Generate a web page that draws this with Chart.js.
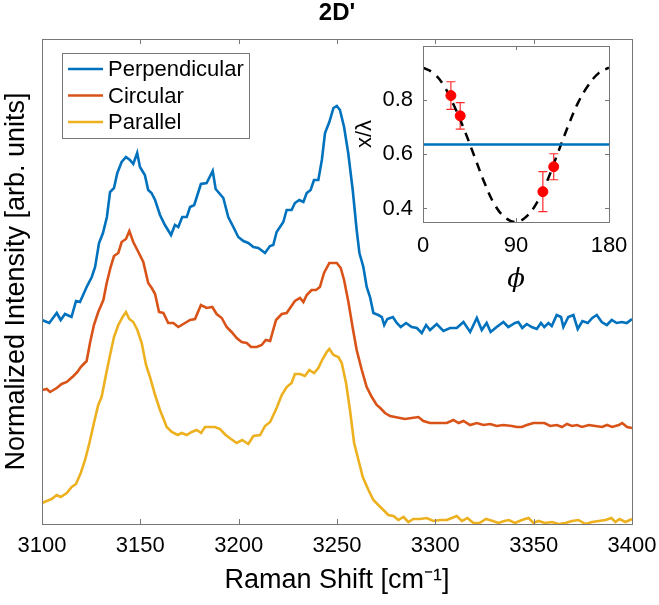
<!DOCTYPE html>
<html>
<head>
    <meta charset="utf-8">
    <title>2D' Raman spectra</title>
    <script src="https://cdn.jsdelivr.net/npm/chart.js"></script>
    <style>
        body {
            margin: 0;
            background: #ffffff;
        }

        .wrap {
            position: relative;
            width: 659px;
            height: 605px;
        }

        #mainChart {
            position: absolute;
            left: 0;
            top: 0;
        }

        #insetChart {
            position: absolute;
            left: 340px;
            top: 40px;
        }
    </style>
</head>
<body>
<div class="wrap">
    <canvas id="mainChart" width="659" height="605"></canvas>
    <canvas id="insetChart" width="290" height="260"></canvas>
</div>

<script>
    // ---- spectra (Raman shift in cm^-1, normalized intensity with offsets) ----
    const perpX = [3100, 3103.7, 3107.5, 3109.5, 3111.7, 3115, 3117.3, 3119.3, 3122.7, 3125.3,
        3127, 3129, 3131, 3133, 3134.6, 3136.6, 3138.3, 3140.5, 3142.7, 3144.7,
        3146.4, 3148.4, 3149.8, 3152.3, 3154, 3155.7, 3157.5, 3160, 3162.5, 3165.6,
        3167.6, 3169.3, 3171.3, 3173.6, 3175.3, 3177.4, 3180.8, 3183.7, 3185, 3186.8,
        3188.3, 3192.2, 3194.7, 3197.3, 3199.8, 3202.4, 3204.9, 3207.5, 3210, 3213.4,
        3215.9, 3217.6, 3219.3, 3222.7, 3224.4, 3226.9, 3228.6, 3230.8, 3232.9, 3234.6,
        3236.6, 3238.3, 3240.5, 3242.3, 3243.9, 3246.1, 3248.2, 3249.9, 3251.5, 3253.6,
        3255.7, 3258, 3260, 3261.4, 3263.4, 3265.1, 3266.8, 3268.5, 3271, 3272.8,
        3274, 3275.6, 3278.4, 3280.4, 3282.4, 3285.1, 3288, 3290.6, 3293.1, 3295.3,
        3297.3, 3300.7, 3304.1, 3307.5, 3310.9, 3314.3, 3317.7, 3321.1, 3323.6, 3326.1,
        3328.1, 3331.2, 3334.6, 3337.1, 3340.5, 3342.2, 3344.2, 3346.5, 3349, 3351.6,
        3353.7, 3355.4, 3357.5, 3359.2, 3361.7, 3363.9, 3365.1, 3367.6, 3370.2, 3372.4,
        3374.8, 3377.5, 3379.8, 3382.1, 3384.6, 3387.2, 3389.7, 3392.2, 3394.8, 3397.3,
        3400];
    const perpY = [2.04, 2.01, 2.11, 2.04, 2.10, 2.07, 2.23, 2.22, 2.37, 2.47,
        2.57, 2.81, 2.91, 3.07, 3.32, 3.36, 3.51, 3.62, 3.67, 3.64,
        3.60, 3.71, 3.57, 3.49, 3.34, 3.31, 3.24, 3.09, 2.99, 2.89,
        2.99, 2.97, 3.07, 3.07, 3.17, 3.19, 3.40, 3.41, 3.46, 3.53,
        3.35, 3.26, 3.07, 2.97, 2.87, 2.83, 2.81, 2.77, 2.76, 2.71,
        2.78, 2.79, 2.92, 3.02, 3.14, 3.14, 3.21, 3.24, 3.22, 3.31,
        3.34, 3.44, 3.44, 3.64, 3.91, 4.02, 4.16, 4.18, 4.14, 3.97,
        3.71, 3.34, 2.94, 2.71, 2.57, 2.37, 2.27, 2.11, 2.09, 2.07,
        1.99, 2.05, 2.07, 2.01, 1.97, 2.01, 1.97, 1.96, 1.91, 1.99,
        1.94, 2.00, 1.93, 1.96, 1.96, 2.02, 1.92, 2.06, 1.94, 2.01,
        1.92, 1.97, 2.02, 1.97, 2.01, 2.02, 1.96, 2.00, 1.97, 1.95,
        2.01, 1.97, 2.01, 1.98, 2.09, 2.07, 1.97, 2.07, 2.09, 1.95,
        2.03, 2.01, 2.06, 2.09, 2.02, 1.99, 2.04, 2.01, 2.02, 2.01,
        2.05];

    const circX = [3100, 3102.4, 3104.1, 3107.5, 3110, 3112.6, 3116, 3118, 3119.7, 3122.7,
        3124.4, 3126.4, 3128.6, 3131.2, 3132.9, 3134.9, 3136.6, 3138.8, 3140.5, 3142.7,
        3144.4, 3146.4, 3149, 3151.5, 3154, 3155.8, 3157.5, 3159.5, 3161.7, 3164.2,
        3166.8, 3169.3, 3172.7, 3175.3, 3177.8, 3180.8, 3183.7, 3186.6, 3188.8, 3191.4,
        3193.9, 3196.4, 3199, 3201.5, 3204.1, 3206.3, 3209.2, 3211.7, 3213.8, 3216,
        3219, 3221.9, 3224.4, 3226.5, 3228.6, 3231.2, 3232.9, 3234.6, 3237.1, 3239.3,
        3241.3, 3243.4, 3246.1, 3248.2, 3249.9, 3251.9, 3253.6, 3255.8, 3258, 3260,
        3262.6, 3265.1, 3267.7, 3270.2, 3272, 3274.4, 3277, 3279.5, 3282, 3284.6,
        3288, 3291.4, 3293.9, 3297.3, 3301.6, 3305.8, 3309.2, 3311.8, 3314.3, 3317.7,
        3321.1, 3324.5, 3327.9, 3331.2, 3334.6, 3338.9, 3341.4, 3344, 3346.5, 3349.9,
        3352.4, 3355.5, 3358.4, 3361.8, 3364.4, 3366.9, 3369.5, 3372, 3374.6, 3378,
        3381.4, 3384.8, 3387.3, 3389.9, 3393.3, 3395, 3397.5, 3400];
    const circY = [1.34, 1.35, 1.32, 1.36, 1.40, 1.42, 1.48, 1.52, 1.57, 1.63,
        1.81, 1.99, 2.12, 2.24, 2.41, 2.57, 2.68, 2.71, 2.82, 2.85,
        2.93, 2.82, 2.72, 2.62, 2.41, 2.36, 2.30, 2.12, 2.11, 2.01,
        2.01, 1.97, 2.01, 2.04, 2.05, 2.19, 2.16, 2.17, 2.10, 2.06,
        1.97, 1.92, 1.86, 1.82, 1.81, 1.77, 1.77, 1.79, 1.84, 1.83,
        2.04, 2.10, 2.11, 2.17, 2.23, 2.26, 2.22, 2.29, 2.34, 2.34,
        2.37, 2.51, 2.61, 2.61, 2.61, 2.56, 2.44, 2.22, 1.96, 1.74,
        1.54, 1.37, 1.27, 1.19, 1.16, 1.11, 1.08, 1.07, 1.06, 1.05,
        1.06, 1.07, 1.03, 1.01, 1.01, 1.01, 1.04, 1.01, 1.03, 0.99,
        1.01, 0.99, 1.00, 0.98, 0.99, 0.98, 0.97, 0.97, 0.99, 1.01,
        1.01, 1.01, 0.98, 0.99, 0.97, 1.00, 0.98, 0.99, 0.97, 0.99,
        0.98, 0.97, 0.99, 0.97, 0.99, 1.01, 0.97, 0.96];

    const paraX = [3100, 3102.4, 3104.9, 3107.5, 3109.5, 3112.6, 3115.1, 3117.3, 3119.7, 3121.9,
        3124.1, 3126.4, 3128.6, 3130.3, 3132.5, 3134.6, 3136.6, 3138.8, 3141, 3142.7,
        3144.4, 3146.4, 3148.5, 3150.7, 3152.9, 3154.9, 3157.5, 3160, 3163.4, 3166,
        3169, 3171, 3173.6, 3176.1, 3178.7, 3180.9, 3182.9, 3185.4, 3188, 3190.5,
        3193.4, 3196.1, 3199, 3201.8, 3204.9, 3207.5, 3210.9, 3213.4, 3216, 3219.3,
        3221.9, 3224.4, 3226.9, 3228.6, 3231.2, 3233.7, 3235.9, 3238.3, 3240.5, 3242.7,
        3244.8, 3246.1, 3248.2, 3250.7, 3252.4, 3254.6, 3256.6, 3258.7, 3260.9, 3263.1,
        3266, 3268.5, 3271, 3273.6, 3276.1, 3278.7, 3281.2, 3283.8, 3286.3, 3288.8,
        3292.2, 3295.6, 3299, 3302.4, 3305.8, 3308.4, 3310.9, 3313.5, 3316.3, 3319.4,
        3322.4, 3325.8, 3329.2, 3332.1, 3335, 3337.4, 3340.5, 3344, 3347.4, 3349.9,
        3352.4, 3355.8, 3359.3, 3362.7, 3366.1, 3369.5, 3372.8, 3376.3, 3379.7, 3383.1,
        3386.5, 3389.5, 3391.6, 3393.6, 3396.7, 3400];
    const paraY = [0.21, 0.23, 0.25, 0.29, 0.27, 0.31, 0.37, 0.40, 0.51, 0.64,
        0.81, 1.01, 1.19, 1.27, 1.49, 1.69, 1.87, 1.99, 2.07, 2.12,
        2.05, 2.02, 1.94, 1.81, 1.59, 1.47, 1.29, 1.14, 0.97, 0.92,
        0.89, 0.91, 0.89, 0.92, 0.94, 0.91, 0.97, 0.97, 0.97, 0.95,
        0.89, 0.85, 0.81, 0.84, 0.80, 0.88, 0.89, 0.98, 1.02, 1.16,
        1.29, 1.37, 1.41, 1.50, 1.50, 1.48, 1.54, 1.51, 1.56, 1.65,
        1.72, 1.75, 1.69, 1.67, 1.61, 1.41, 1.14, 0.81, 0.64, 0.47,
        0.34, 0.24, 0.19, 0.14, 0.09, 0.08, 0.04, 0.07, 0.02, 0.05,
        0.05, 0.06, 0.03, 0.04, 0.04, 0.06, 0.08, 0.03, 0.06, 0.01,
        0.01, 0.05, 0.03, 0.01, 0.03, 0.04, 0.01, 0.04, 0.06, 0.01,
        0.03, 0.01, 0.02, 0.00, 0.01, 0.03, 0.04, 0.00, 0.02, 0.03,
        0.04, 0.06, 0.02, 0.05, 0.02, 0.05];

    const seriesNames = ['Perpendicular', 'Circular', 'Parallel'];
    const seriesColors = ['#0072BD', '#D95319', '#EDB120'];
    const xTicks = [3100, 3150, 3200, 3250, 3300, 3350, 3400];

    // ---- inset: ratio vs polarization angle ----
    const fitPhi = [0, 10, 20, 30, 40, 50, 60, 70, 80, 90, 100, 110, 120, 130, 140, 150, 160, 170, 180];
    const fitVal = [0.92, 0.90, 0.855, 0.78, 0.69, 0.59, 0.49, 0.41, 0.365, 0.35, 0.37, 0.42, 0.50, 0.60, 0.70, 0.79, 0.855, 0.90, 0.92];
    const perpLevel = 0.636;
    const measPhi = [27, 36, 116, 126.5];
    const measVal = [0.817, 0.742, 0.462, 0.554];
    const measErr = [0.051, 0.049, 0.074, 0.048];
    const insetXTicks = [0, 90, 180];
    const insetYTicks = [0.4, 0.6, 0.8];

    const FONT = '"Liberation Sans", Arial, Helvetica, sans-serif';
    const AXIS_GRAY = '#777777';
    Chart.defaults.font.family = FONT;
    Chart.defaults.color = '#000000';

    function toPoints(xs, ys) {
        return xs.map((x, i) => ({x: x, y: ys[i]}));
    }

    // keep the plot box where the original has it: no extra room for overflowing labels
    function noOverflowX(s) {
        s.paddingLeft = 0;
        s.paddingRight = 0;
    }

    function noOverflowY(s) {
        s.paddingTop = 0;
        s.paddingBottom = 0;
    }

    // frame with inward ticks, like the original figure
    function drawFrame(chart, xVals, yVals, tickLen) {
        const ctx = chart.ctx;
        const a = chart.chartArea;
        const xs = chart.scales.x, ys = chart.scales.y;
        ctx.save();
        ctx.strokeStyle = AXIS_GRAY;
        ctx.lineWidth = 1;
        ctx.strokeRect(Math.round(a.left) + 0.5, Math.round(a.top) + 0.5,
            Math.round(a.right - a.left), Math.round(a.bottom - a.top));
        ctx.beginPath();
        xVals.forEach(v => {
            const px = Math.round(xs.getPixelForValue(v)) + 0.5;
            ctx.moveTo(px, a.bottom); ctx.lineTo(px, a.bottom - tickLen);
            ctx.moveTo(px, a.top); ctx.lineTo(px, a.top + tickLen);
        });
        yVals.forEach(v => {
            const py = Math.round(ys.getPixelForValue(v)) + 0.5;
            ctx.moveTo(a.left, py); ctx.lineTo(a.left + tickLen, py);
            ctx.moveTo(a.right, py); ctx.lineTo(a.right - tickLen, py);
        });
        ctx.stroke();
        ctx.restore();
    }

    const mainDecor = {
        id: 'mainDecor',
        afterDraw(chart) {
            const ctx = chart.ctx;
            const a = chart.chartArea;
            drawFrame(chart, xTicks, [], 5);

            // title
            ctx.save();
            ctx.fillStyle = '#000';
            ctx.font = 'bold 24px ' + FONT;
            ctx.textAlign = 'center';
            ctx.textBaseline = 'middle';
            ctx.fillText("2D'", (a.left + a.right) / 2, 13);

            // legend box
            const box = {x: 62.5, y: 53.5, w: 187, h: 85};
            ctx.fillStyle = '#ffffff';
            ctx.fillRect(box.x, box.y, box.w, box.h);
            ctx.strokeStyle = AXIS_GRAY;
            ctx.lineWidth = 1;
            ctx.strokeRect(box.x, box.y, box.w, box.h);
            ctx.font = '22px ' + FONT;
            ctx.textAlign = 'left';
            seriesNames.forEach((name, i) => {
                const y = 69 + i * 26.5;
                ctx.strokeStyle = seriesColors[i];
                ctx.lineWidth = 2.5;
                ctx.beginPath();
                ctx.moveTo(68, y);
                ctx.lineTo(103, y);
                ctx.stroke();
                ctx.fillStyle = '#000';
                ctx.fillText(name, 108, y + 1);
            });
            ctx.restore();
        }
    };

    new Chart(document.getElementById('mainChart'), {
        type: 'line',
        data: {
            datasets: [
                {label: seriesNames[0], data: toPoints(perpX, perpY), borderColor: seriesColors[0]},
                {label: seriesNames[1], data: toPoints(circX, circY), borderColor: seriesColors[1]},
                {label: seriesNames[2], data: toPoints(paraX, paraY), borderColor: seriesColors[2]}
            ]
        },
        options: {
            responsive: false,
            animation: false,
            layout: {padding: {top: 39, right: 27, left: 0, bottom: 0}},
            elements: {
                point: {radius: 0},
                line: {borderWidth: 2.6, tension: 0, fill: false}
            },
            plugins: {
                legend: {display: false},
                tooltip: {enabled: false},
                title: {display: false}
            },
            scales: {
                x: {
                    type: 'linear',
                    min: 3100,
                    max: 3400,
                    afterBuildTicks: s => { s.ticks = xTicks.map(v => ({value: v})); },
                    grid: {display: false, drawTicks: false},
                    border: {display: false},
                    ticks: {
                        font: {size: 22}, color: '#000', padding: 9, maxRotation: 0, autoSkip: false,
                        callback: v => String(v)
                    },
                    title: {
                        display: true,
                        text: 'Raman Shift [cm\u207B\u00B9]',
                        font: {size: 27},
                        color: '#000',
                        padding: {top: 0, bottom: 8}
                    },
                    afterFit: s => { s.height = 81; noOverflowX(s); }
                },
                y: {
                    min: 0,
                    max: 4.85,
                    grid: {display: false, drawTicks: false},
                    border: {display: false},
                    ticks: {display: false},
                    title: {
                        display: true,
                        text: 'Normalized Intensity [arb. units]',
                        font: {size: 27},
                        color: '#000',
                        padding: {top: 0, bottom: 0}
                    },
                    afterFit: s => { s.width = 42; noOverflowY(s); }
                }
            }
        },
        plugins: [mainDecor]
    });

    const insetDecor = {
        id: 'insetDecor',
        beforeDatasetsDraw(chart) {
            // error bars under the markers
            const ctx = chart.ctx;
            const xs = chart.scales.x, ys = chart.scales.y;
            ctx.save();
            ctx.strokeStyle = '#FF2A2A';
            ctx.lineWidth = 1.2;
            ctx.beginPath();
            measPhi.forEach((p, i) => {
                const px = xs.getPixelForValue(p);
                const top = ys.getPixelForValue(measVal[i] + measErr[i]);
                const bot = ys.getPixelForValue(measVal[i] - measErr[i]);
                ctx.moveTo(px, top); ctx.lineTo(px, bot);
                ctx.moveTo(px - 4.5, top); ctx.lineTo(px + 4.5, top);
                ctx.moveTo(px - 4.5, bot); ctx.lineTo(px + 4.5, bot);
            });
            ctx.stroke();
            ctx.restore();
        },
        afterDraw(chart) {
            drawFrame(chart, insetXTicks, insetYTicks, 4);
        }
    };

    new Chart(document.getElementById('insetChart'), {
        type: 'line',
        data: {
            datasets: [
                {
                    label: 'measured',
                    data: toPoints(measPhi, measVal),
                    showLine: false,
                    pointRadius: 5,
                    pointBackgroundColor: '#FF0000',
                    pointBorderColor: '#FF0000',
                    pointBorderWidth: 1
                },
                {
                    label: 'perpendicular level',
                    data: toPoints([insetXTicks[0], insetXTicks[2]], [perpLevel, perpLevel]),
                    borderColor: '#0072BD',
                    borderWidth: 2.5,
                    pointRadius: 0
                },
                {
                    label: 'model',
                    data: toPoints(fitPhi, fitVal),
                    borderColor: '#000000',
                    borderWidth: 2.5,
                    borderDash: [9, 7],
                    tension: 0.4,
                    pointRadius: 0
                }
            ]
        },
        options: {
            responsive: false,
            animation: false,
            layout: {padding: {top: 6, right: 21, left: 0, bottom: 0}},
            plugins: {
                legend: {display: false},
                tooltip: {enabled: false}
            },
            scales: {
                x: {
                    type: 'linear',
                    min: 0,
                    max: 180,
                    afterBuildTicks: s => { s.ticks = insetXTicks.map(v => ({value: v})); },
                    grid: {display: false, drawTicks: false},
                    border: {display: false},
                    ticks: {font: {size: 22}, color: '#000', padding: 11, maxRotation: 0, autoSkip: false},
                    title: {
                        display: true,
                        text: '\u03D5',
                        font: {size: 26, style: 'italic', family: '"DejaVu Serif", "Liberation Serif", serif'},
                        color: '#000',
                        padding: {top: 0, bottom: 4}
                    },
                    afterFit: s => { s.height = 78; noOverflowX(s); }
                },
                y: {
                    min: 0.35,
                    max: 1.0,
                    afterBuildTicks: s => { s.ticks = insetYTicks.map(v => ({value: v})); },
                    grid: {display: false, drawTicks: false},
                    border: {display: false},
                    ticks: {font: {size: 22}, color: '#000', padding: 10, callback: v => v.toFixed(1)},
                    title: {
                        display: true,
                        text: 'x/\u03BB',
                        font: {size: 22},
                        color: '#000',
                        padding: {top: 12, bottom: 0}
                    },
                    afterFit: s => { s.width = 83; noOverflowY(s); }
                }
            }
        },
        plugins: [insetDecor]
    });
</script>
</body>
</html>
